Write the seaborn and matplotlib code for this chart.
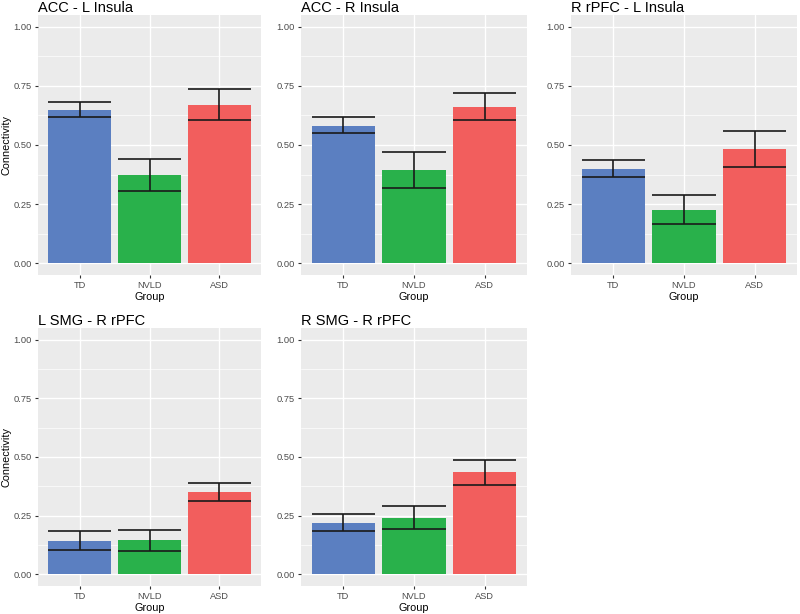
import numpy as np
import pandas as pd
import seaborn as sns
import matplotlib
matplotlib.use("Agg")
import matplotlib.pyplot as plt
from matplotlib.ticker import MultipleLocator

groups = ["TD", "NVLD", "ASD"]
colors = ["#5b7fc1", "#29b14b", "#f25e5d"]

titles = ["ACC - L Insula", "ACC - R Insula", "R rPFC - L Insula",
          "L SMG - R rPFC", "R SMG - R rPFC"]

acc_l_insula_mean = [0.650, 0.372, 0.671]
acc_l_insula_lo = [0.617, 0.304, 0.606]
acc_l_insula_hi = [0.684, 0.440, 0.738]

acc_r_insula_mean = [0.582, 0.394, 0.662]
acc_r_insula_lo = [0.549, 0.319, 0.604]
acc_r_insula_hi = [0.617, 0.472, 0.720]

rrpfc_l_insula_mean = [0.400, 0.224, 0.482]
rrpfc_l_insula_lo = [0.366, 0.166, 0.407]
rrpfc_l_insula_hi = [0.437, 0.287, 0.559]

lsmg_rrpfc_mean = [0.143, 0.145, 0.350]
lsmg_rrpfc_lo = [0.102, 0.100, 0.313]
lsmg_rrpfc_hi = [0.184, 0.189, 0.390]

rsmg_rrpfc_mean = [0.220, 0.240, 0.434]
rsmg_rrpfc_lo = [0.184, 0.191, 0.379]
rsmg_rrpfc_hi = [0.258, 0.289, 0.489]

means = [acc_l_insula_mean, acc_r_insula_mean, rrpfc_l_insula_mean,
         lsmg_rrpfc_mean, rsmg_rrpfc_mean]
los = [acc_l_insula_lo, acc_r_insula_lo, rrpfc_l_insula_lo,
       lsmg_rrpfc_lo, rsmg_rrpfc_lo]
his = [acc_l_insula_hi, acc_r_insula_hi, rrpfc_l_insula_hi,
       lsmg_rrpfc_hi, rsmg_rrpfc_hi]

y_ticks = [0.00, 0.25, 0.50, 0.75, 1.00]
y_tick_labels = ["0.00", "0.25", "0.50", "0.75", "1.00"]

sns.set_theme(style="darkgrid")
plt.rcParams["font.family"] = ["Liberation Sans", "DejaVu Sans"]

W, H = 800, 614
fig = plt.figure(figsize=(W / 100, H / 100), dpi=100)
fig.patch.set_facecolor("white")

# pixel boxes (x0, y0, x1, y1) for each panel
boxes = [(38, 15, 261, 275), (301, 15, 527, 275), (571, 15, 797, 275),
         (38, 328, 261, 586), (301, 328, 527, 586)]
show_ylabel = [True, False, False, True, False]

for i in range(5):
    x0, y0, x1, y1 = boxes[i]
    ax = fig.add_axes([x0 / W, 1 - y1 / H, (x1 - x0) / W, (y1 - y0) / H])
    df = pd.DataFrame({"Group": groups, "Connectivity": means[i]})
    sns.barplot(data=df, x="Group", y="Connectivity", hue="Group",
                palette=colors, order=groups, hue_order=groups,
                width=0.9, saturation=1, legend=False, ax=ax,
                linewidth=0, zorder=3)
    xs = np.arange(len(groups))
    ax.vlines(xs, los[i], his[i], color="#1a1a1a", lw=1.2, zorder=4)
    ax.hlines(los[i], xs - 0.45, xs + 0.45, color="#1a1a1a", lw=1.2, zorder=4)
    ax.hlines(his[i], xs - 0.45, xs + 0.45, color="#1a1a1a", lw=1.2, zorder=4)

    ax.set_facecolor("#ebebeb")
    ax.set_xlim(-0.6, 2.6)
    ax.set_ylim(-0.05, 1.05)
    ax.set_yticks(y_ticks)
    ax.set_yticklabels(y_tick_labels)
    ax.yaxis.set_minor_locator(MultipleLocator(0.125))
    ax.grid(which="major", color="white", lw=1.0, zorder=0)
    ax.grid(which="minor", axis="y", color="white", lw=0.5, zorder=0)
    ax.set_axisbelow(True)
    for s in ax.spines.values():
        s.set_visible(False)
    ax.tick_params(which="major", length=2.5, width=0.8, color="#333333",
                   labelsize=6.7, labelcolor="#4d4d4d", pad=2,
                   left=True, bottom=True)
    ax.tick_params(which="minor", length=0)
    ax.set_xlabel("Group", fontsize=7.8, color="black", labelpad=1)
    if show_ylabel[i]:
        ax.set_ylabel("Connectivity", fontsize=7.8, color="black", labelpad=1)
    else:
        ax.set_ylabel("")
    ax.set_title(titles[i], loc="left", fontsize=10.5, color="black", pad=2)

fig.savefig("out.png", dpi=100, facecolor="white")
